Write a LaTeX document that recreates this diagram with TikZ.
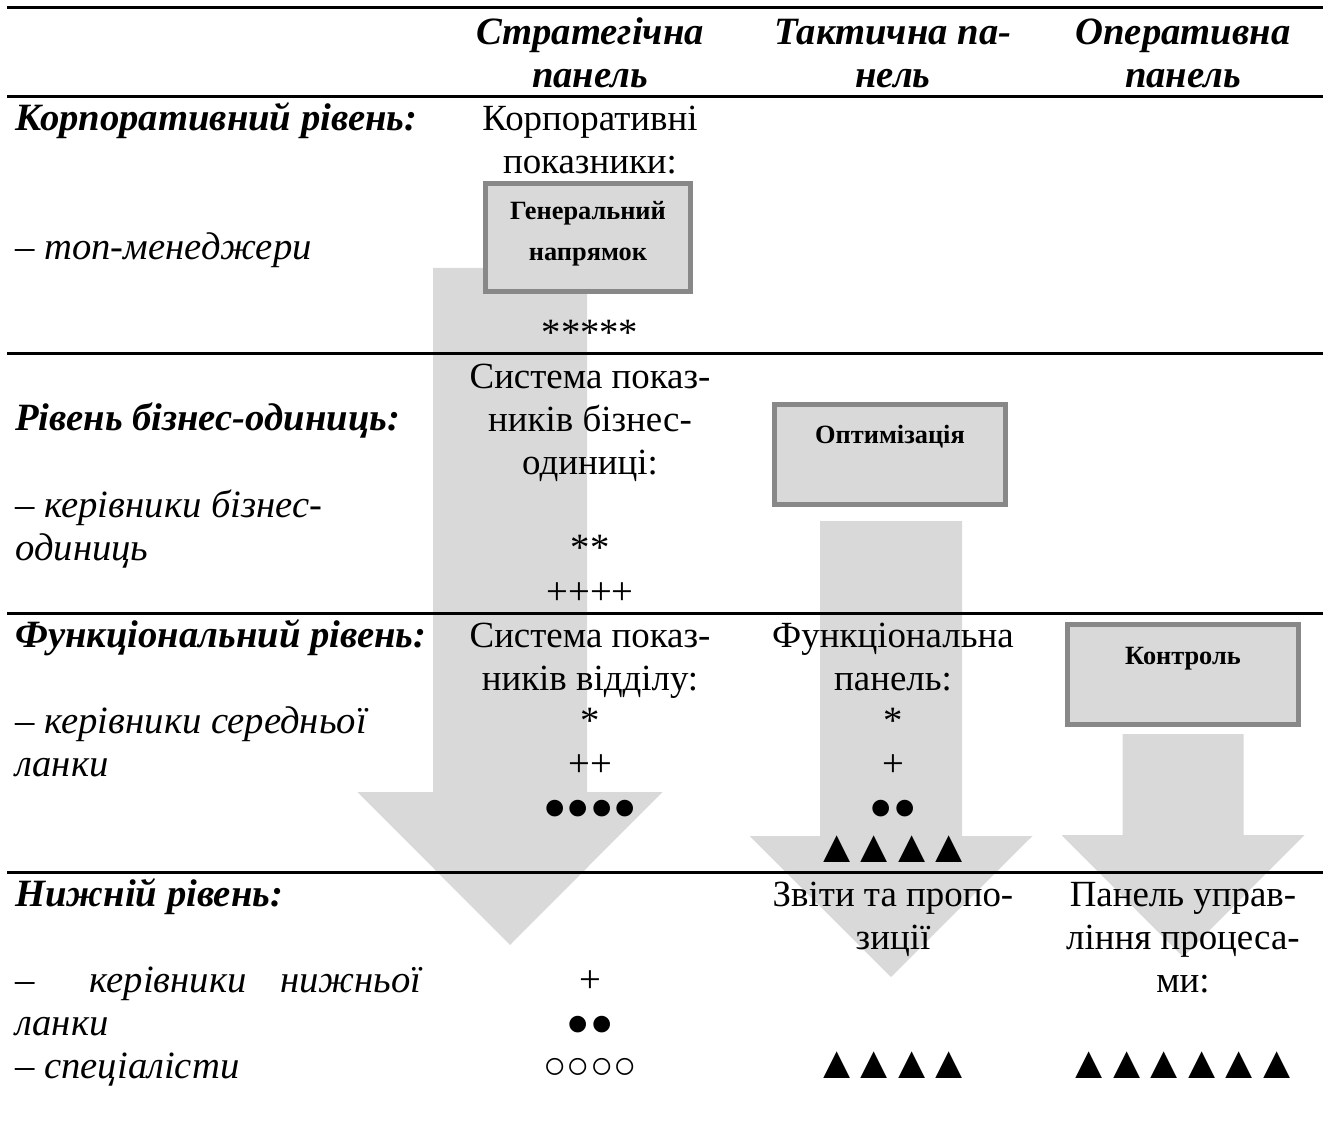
\documentclass[tikz,border=0pt]{standalone}
\usepackage{fontspec}
\setmainfont{Liberation Serif}

\pgfdeclarelayer{background}
\pgfsetlayers{background,main}

\definecolor{flowgray}{HTML}{D9D9D9}
\definecolor{framegray}{HTML}{888888}

% row of tight triangles
\newcommand{\trirow}[1]{\foreach \k in {1,...,#1}{\ifnum\k>1\kern-0.17em\fi▲}}

\begin{document}
\begin{tikzpicture} [
            x=0.02cm, y=-0.02cm,
            cell/.style = {anchor=base, inner sep=0pt, font=\fontsize{21}{25}\selectfont},
            marks/.style = {cell, font=\fontsize{22}{25}\selectfont},
            tri marks/.style = {cell, font=\fontsize{26}{28}\selectfont},
            head/.style = {cell, font=\fontsize{22}{25}\selectfont\bfseries\itshape},
            role/.style = {anchor=base west, inner sep=0pt, font=\fontsize{22}{25}\selectfont\itshape},
            level/.style = {role, font=\fontsize{22}{25}\selectfont\bfseries\itshape},
            panel/.style = {draw=framegray, fill=flowgray, line width=0.1cm, inner sep=0pt},
            panel text/.style = {anchor=base, inner sep=0pt, font=\fontsize{15}{18}\selectfont\bfseries},
            rule/.style = {draw, line width=0.06cm},
            flow/.style = {fill=flowgray},
        ]
        \useasboundingbox (0,0) rectangle (1323,1125);
        % table rules
        \foreach \y in {8,97,354,613,872}
            \path[rule] (7,\y) -- (1323,\y);
        % panel boxes
        \node[panel, minimum width=4.1cm, minimum height=2.16cm] (general) at (588,237.5) {};
        \node[panel, minimum width=4.62cm, minimum height=2cm] (optim) at (890,454.5) {};
        \node[panel, minimum width=4.62cm, minimum height=2cm] (control) at (1183,674.5) {};
        \foreach \pos/\name/\label in {
                {(588,220)/generala/Генеральний},
                {(588,261)/generalb/напрямок},
                {(890,443)/optima/Оптимізація},
                {(1183,664)/controla/Контроль}}
            \node[panel text] (\name) at \pos {\label};
        % column heads
        \foreach \pos/\name/\label in {
                {(590,45)/stra/Стратегічна},
                {(590,88)/strb/панель},
                {(893,45)/taca/Тактична па-},
                {(893,88)/tacb/нель},
                {(1183,45)/opea/Оперативна},
                {(1183,88)/opeb/панель}}
            \node[head] (\name) at \pos {\label};
        % levels and roles
        \foreach \pos/\name/\label in {
                {(15,131)/corp/Корпоративний рівень:},
                {(15,431)/unit/Рівень бізнес-одиниць:},
                {(15,647)/func/Функціональний рівень:},
                {(15,906)/low/Нижній рівень:}}
            \node[level] (\name) at \pos {\label};
        \foreach \pos/\name/\label in {
                {(15,260)/corpa/– топ-менеджери},
                {(15,518)/unita/– керівники бізнес-},
                {(15,561)/unitb/одиниць},
                {(15,733)/funca/– керівники середньої},
                {(15,776)/funcb/ланки},
                {(15,992)/lowa/–},
                {(89,992)/lowb/керівники},
                {(15,1035)/lowd/ланки},
                {(15,1078)/lowe/– спеціалісти}}
            \node[role] (\name) at \pos {\label};
        \node[role, anchor=base east] (lowc) at (422,992) {нижньої};
        % strategic panel
        \foreach \pos/\name/\label in {
                {(590,131)/sa/Корпоративні},
                {(590,174)/sb/показники:},
                {(590,389)/sd/Система показ-},
                {(590,432)/se/ників бізнес-},
                {(590,475)/sf/одиниці:},
                {(590,647)/si/Система показ-},
                {(590,690)/sj/ників відділу:}}
            \node[cell] (\name) at \pos {\label};
        \foreach \pos/\name/\label in {
                {(590,346)/sc/*****},
                {(590,561)/sg/**},
                {(590,604)/sh/++++},
                {(590,733)/sk/*},
                {(590,776)/sl/++},
                {(590,819)/sm/●●●●},
                {(590,992)/sn/+},
                {(590,1035)/so/●●},
                {(590,1078)/sp/○○○○}}
            \node[marks] (\name) at \pos {\label};
        % tactical panel
        \foreach \pos/\name/\label in {
                {(893,647)/ta/Функціональна},
                {(893,690)/tb/панель:},
                {(893,906)/tg/Звіти та пропо-},
                {(893,949)/th/зиції}}
            \node[cell] (\name) at \pos {\label};
        \foreach \pos/\name/\label in {
                {(893,733)/tc/*},
                {(893,776)/td/+},
                {(893,819)/te/●●}}
            \node[marks] (\name) at \pos {\label};
        \node[tri marks] (tf) at (893,862) {\trirow{4}};
        \node[tri marks] (ti) at (893,1078) {\trirow{4}};
        % operative panel
        \foreach \pos/\name/\label in {
                {(1183,906)/oa/Панель управ-},
                {(1183,949)/ob/ління процеса-},
                {(1183,992)/oc/ми:}}
            \node[cell] (\name) at \pos {\label};
        \node[tri marks] (od) at (1183,1078) {\trirow{6}};
        % big arrows on background layer
        \begin{pgfonlayer}{background}
            \foreach \cx/\sw/\top/\neck/\hw/\tip in {
                    510/77/268/792/152.5/945,
                    891/71/521/836/141.5/977,
                    1183/60.5/734/835/121.5/957}
                \path[flow] (\cx-\sw,\top) -- (\cx+\sw,\top) -- (\cx+\sw,\neck) -- (\cx+\hw,\neck)
                    -- (\cx,\tip) -- (\cx-\hw,\neck) -- (\cx-\sw,\neck) -- cycle;
        \end{pgfonlayer}
    \end{tikzpicture}
\end{document}
